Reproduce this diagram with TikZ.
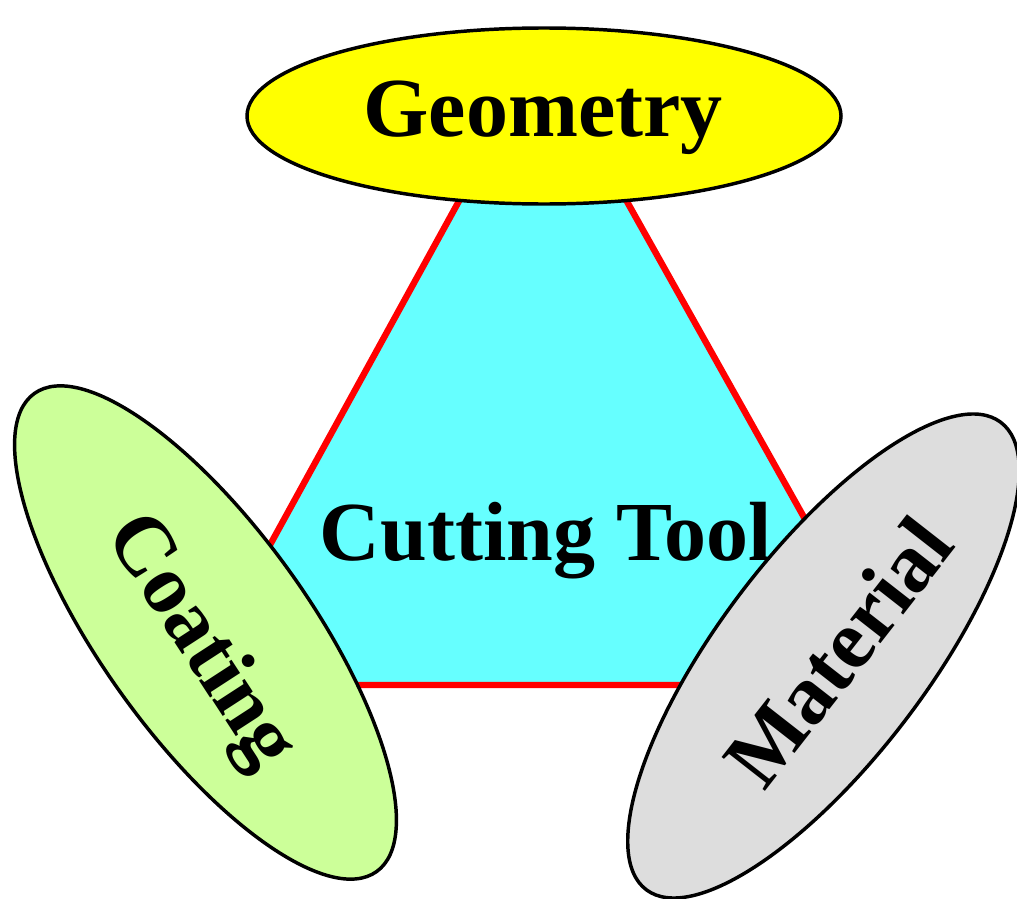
\documentclass[tikz,border=0pt]{standalone}
\usepackage{fontspec}
\setmainfont{Liberation Serif}
\usetikzlibrary{shapes.geometric}
\definecolor{toolcyan}{HTML}{66FFFF}
\definecolor{geoyellow}{HTML}{FFFF00}
\definecolor{coatgreen}{HTML}{CCFF99}
\definecolor{matgrey}{HTML}{DDDDDD}
\tikzset{
  oval/.style={ellipse, draw=black, line width=2.6pt, inner sep=0pt},
  bigtext/.style={font=\fontsize{63}{70}\selectfont\bfseries, text=black, inner sep=0pt}
}
\begin{document}
\begin{tikzpicture}[x=0.75pt,y=-0.75pt]
\useasboundingbox (0,0) rectangle (1017,899);
% triangle
\coordinate (apex) at (542,50);
\coordinate (bl) at (193,685);
\coordinate (br) at (898,685);
\draw[fill=toolcyan, draw=red, line width=4.8pt, line join=miter] (apex) -- (bl) -- (br) -- cycle;
% ellipses
\node[oval, fill=geoyellow, minimum width=445.5pt, minimum height=132pt] (geo) at (544,116) {};
\node[oval, fill=coatgreen, minimum width=441pt, minimum height=156pt, rotate=-54.4] (coat) at (205.5,632.5) {};
\node[oval, fill=matgrey, minimum width=440pt, minimum height=156pt, rotate=52.8] (mat) at (823.5,656) {};
% labels
\node[bigtext, anchor=base] (geotxt) at (543,137) {Geometry};
\node[bigtext, anchor=base] (tooltxt) at (546,560) {Cutting Tool};
\node[bigtext, rotate=-57] (coattxt) at (199,643) {Coating};
\node[bigtext, rotate=52] (mattxt) at (838,652) {Material};
\end{tikzpicture}
\end{document}
